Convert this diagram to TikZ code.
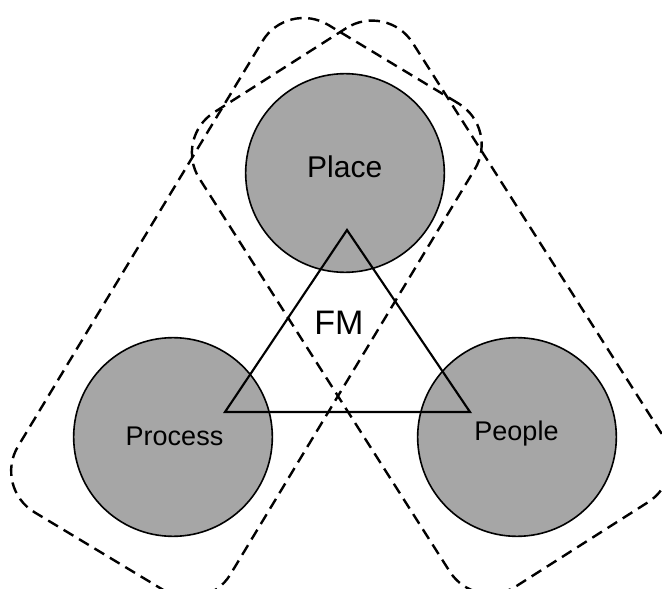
\documentclass[tikz,border=0pt]{standalone}
\usepackage{fontspec}
\setmainfont{Liberation Sans}
\definecolor{hubgray}{RGB}{166,166,166}
\begin{document}
\begin{tikzpicture}[x=0.75pt,y=-0.75pt,
  zone/.style={rectangle, draw, line width=1.8pt, dash pattern=on 8.5pt off 5pt,
               rounded corners=36pt, inner sep=0pt},
  hub/.style={circle, draw, line width=1.2pt, fill=hubgray, minimum size=149pt, inner sep=0pt},
  caption/.style={anchor=base, inner sep=0pt, font=\fontsize{20.25pt}{24pt}\selectfont}]
  \useasboundingbox (0,0) rectangle (662,589);
  \clip (0,0) rectangle (662,589);

  % overlapping dashed groupings
  \node[zone, minimum width=186pt, minimum height=426.8pt, rotate=-31.1] (zonePP) at (246.4,307.8) {};
  \node[zone, minimum width=189.6pt, minimum height=421.5pt, rotate=32.5] (zonePe) at (431.2,307.2) {};

  % the three hubs
  \node[hub] (place) at (345,173) {};
  \node[hub] (process) at (173,437) {};
  \node[hub] (people) at (517,437) {};

  % FM triangle
  \coordinate (tTop) at (347,230);
  \coordinate (tLeft) at (225,412);
  \coordinate (tRight) at (470,412);
  \draw[line width=1.6pt, line join=miter] (tTop) -- (tLeft) -- (tRight) -- cycle;

  % labels
  \node[caption, font=\fontsize{22.5pt}{26pt}\selectfont] (placeText) at (344.7,177.7) {Place};
  \node[caption] (processText) at (174.5,445) {Process};
  \node[caption] (peopleText) at (516.5,440) {People};
  \node[caption, font=\fontsize{25.5pt}{30pt}\selectfont] (fmText) at (339,334) {FM};
\end{tikzpicture}
\end{document}
